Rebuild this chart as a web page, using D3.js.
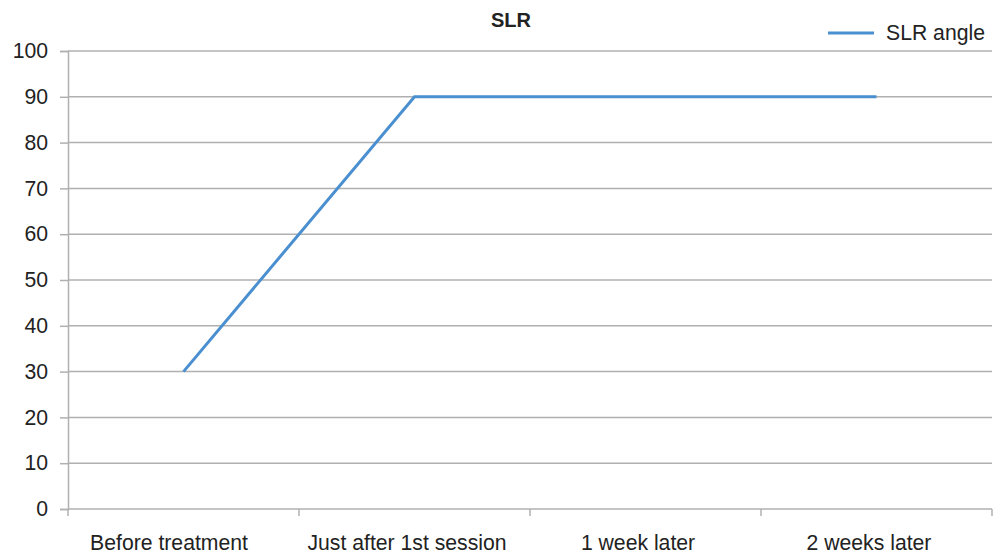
<!DOCTYPE html>
<html>
<head>
<meta charset="utf-8">
<script src="https://cdn.jsdelivr.net/npm/d3@7"></script>
<style>
  body { margin: 0; background: #fff; }
  svg { display: block; font-family: "Liberation Sans", Arial, sans-serif; }
</style>
</head>
<body>
<svg id="chart" width="1002" height="553"></svg>
<script>
// Straight-leg-raise angle over the course of treatment
const categories = ["Before treatment", "Just after 1st session", "1 week later", "2 weeks later"];
const slrAngle = [30, 90, 90, 90];
const yTicks = [0, 10, 20, 30, 40, 50, 60, 70, 80, 90, 100];
const seriesName = "SLR angle";
const chartTitle = "SLR";

const svg = d3.select("#chart");
const margin = { left: 68, right: 10, top: 51, bottom: 44 };
const W = 1002, H = 553;

const x = d3.scaleBand().domain(categories).range([margin.left, W - margin.right]);
const y = d3.scaleLinear().domain([0, 100]).range([H - margin.bottom, margin.top]);

const gridColor = "#b0b0b0";
const textColor = "#222";
const lineColor = "#4a8fcf";
const labelSize = "21.2px";

// Horizontal gridlines with labels
const yAxis = svg.append("g")
  .attr("transform", `translate(${margin.left},0)`)
  .call(d3.axisLeft(y).tickValues(yTicks).tickSize(8).tickPadding(12).tickFormat(d3.format("d")));
yAxis.select(".domain").attr("stroke", gridColor).attr("stroke-width", 1.5);
yAxis.selectAll(".tick line").attr("stroke", gridColor).attr("stroke-width", 1.5);
yAxis.selectAll(".tick text").attr("fill", textColor).style("font-size", labelSize);

svg.append("g").selectAll("line")
  .data(yTicks)
  .join("line")
  .attr("x1", margin.left).attr("x2", W - margin.right)
  .attr("y1", d => y(d)).attr("y2", d => y(d))
  .attr("stroke", gridColor).attr("stroke-width", 1.5);

// Category axis: ticks on band boundaries, labels near band centers
const xAxis = svg.append("g")
  .attr("transform", `translate(0,${y(0)})`);
const bounds = categories.map(c => x(c)).concat([x(categories[categories.length - 1]) + x.bandwidth()]);
xAxis.selectAll("line.tk")
  .data(bounds)
  .join("line")
  .attr("class", "tk")
  .attr("x1", d => d).attr("x2", d => d)
  .attr("y1", 0).attr("y2", 7)
  .attr("stroke", gridColor).attr("stroke-width", 1.5);
xAxis.selectAll("text")
  .data(categories)
  .join("text")
  .attr("x", d => x(d) + x.bandwidth() / 2)
  .attr("dx", (d, i) => i === 0 ? -14.5 : -7.5)
  .attr("y", 41)
  .attr("text-anchor", "middle")
  .attr("fill", textColor)
  .style("font-size", labelSize)
  .text(d => d);

// Series line
const line = d3.line()
  .x((d, i) => x(categories[i]) + x.bandwidth() / 2)
  .y(d => y(d));
svg.append("path")
  .datum(slrAngle)
  .attr("d", line)
  .attr("fill", "none")
  .attr("stroke", lineColor)
  .attr("stroke-width", 3);

// Title
svg.append("text")
  .attr("x", 511).attr("y", 27)
  .attr("text-anchor", "middle")
  .attr("fill", textColor)
  .style("font-size", "20px")
  .style("font-weight", "bold")
  .text(chartTitle);

// Legend
const legend = svg.append("g");
legend.append("line")
  .attr("x1", 828).attr("x2", 874)
  .attr("y1", 33).attr("y2", 33)
  .attr("stroke", lineColor).attr("stroke-width", 3);
legend.append("text")
  .attr("x", 886).attr("y", 40)
  .attr("fill", textColor)
  .style("font-size", labelSize)
  .text(seriesName);
</script>
</body>
</html>
